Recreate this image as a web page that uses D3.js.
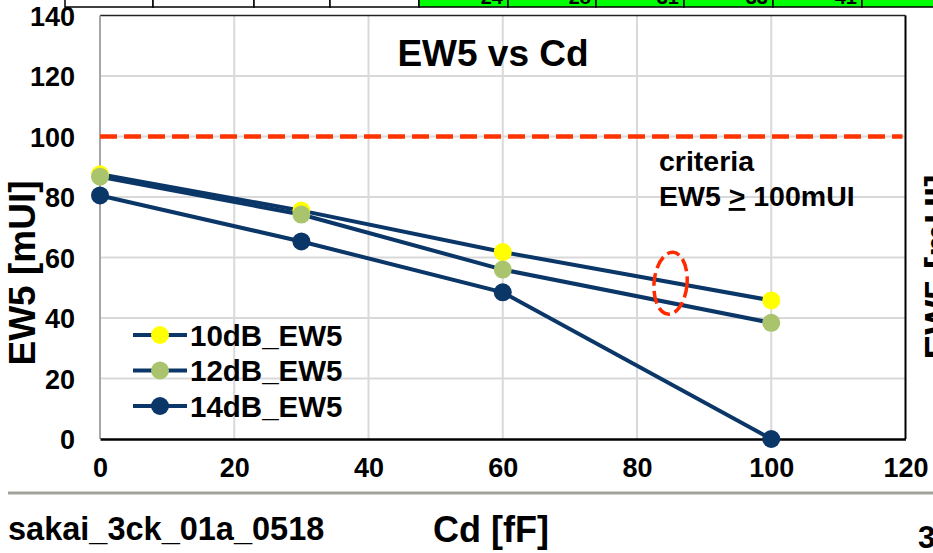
<!DOCTYPE html>
<html><head><meta charset="utf-8">
<script src="https://cdn.jsdelivr.net/npm/d3@7"></script>
<style>
html,body{margin:0;padding:0;background:#fff;}
svg{display:block;font-family:"Liberation Sans",Arial,sans-serif;font-weight:bold;}
</style></head>
<body><svg id="c" width="933" height="553"></svg>
<script>
// ---- data ----
const cdValues = [0, 30, 60, 100];
const seriesNames = ["10dB_EW5", "12dB_EW5", "14dB_EW5"];
const ew5_10dB = [87.5, 75.5, 61.8, 45.8];
const ew5_12dB = [86.7, 74.2, 56.0, 38.4];
const ew5_14dB = [80.5, 65.3, 48.5, 0];
const xTicks = [0, 20, 40, 60, 80, 100, 120];
const yTicks = [0, 20, 40, 60, 80, 100, 120, 140];
const criteriaValue = 100;
const ellipseCenter = [85, 51.5];
const tableCellEdges = [65, 153, 254, 330, 419, 508, 596, 684, 773, 862, 951];
const tableValues = ["", "", "", "", "24", "28", "31", "33", "41", ""];

const markerColors = ["#ffff00", "#a9c46c", "#0b3668"];
const lineColor = "#0b3668";
const allSeries = [ew5_10dB, ew5_12dB, ew5_14dB];

const svg = d3.select("#c");
const x = d3.scaleLinear().domain([0, 120]).range([100, 905.5]);
const y = d3.scaleLinear().domain([0, 140]).range([439, 15.5]);

// top table strip (cropped slide table)
const tbl = svg.append("g");
for (let i = 0; i < tableCellEdges.length - 1; i++) {
  const x0 = tableCellEdges[i], x1 = tableCellEdges[i + 1];
  tbl.append("rect").attr("x", x0).attr("y", -2).attr("width", x1 - x0).attr("height", 9)
    .attr("fill", i >= 4 ? "#00ff00" : "#fff").attr("stroke", "#000").attr("stroke-width", 1.5);
  if (tableValues[i]) tbl.append("text").attr("x", x1 - 5).attr("y", 3.5).attr("text-anchor", "end")
    .attr("font-size", 20).text(tableValues[i]);
}

// gridlines
const grid = svg.append("g").attr("stroke", "#d9d9d9").attr("stroke-width", 2);
grid.selectAll(".gx").data(xTicks.filter(d => d > 0 && d < 120)).join("line")
  .attr("x1", d => x(d)).attr("x2", d => x(d)).attr("y1", y(140)).attr("y2", y(0));
grid.selectAll(".gy").data(yTicks.filter(d => d > 0 && d < 140)).join("line")
  .attr("x1", x(0)).attr("x2", x(120)).attr("y1", d => y(d)).attr("y2", d => y(d));

// frame
svg.append("line").attr("x1", x(0)).attr("x2", x(120)).attr("y1", y(140)).attr("y2", y(140)).attr("stroke", "#222").attr("stroke-width", 1.5);
svg.append("line").attr("x1", x(120)).attr("x2", x(120)).attr("y1", y(140)).attr("y2", y(0)).attr("stroke", "#000").attr("stroke-width", 2);
svg.append("line").attr("x1", x(0)).attr("x2", x(0)).attr("y1", y(140)).attr("y2", y(0)).attr("stroke", "#a6a6a6").attr("stroke-width", 2);

// axes (labels only)
const xAxis = svg.append("g").attr("transform", `translate(0,${y(0)})`)
  .call(d3.axisBottom(x).tickValues(xTicks).tickSize(0).tickPadding(38));
xAxis.select(".domain").attr("stroke", "#000").attr("stroke-width", 2.5);
xAxis.selectAll("text").attr("font-size", 27).attr("font-family", null).attr("fill", "#000").attr("dy", null);
const yAxis = svg.append("g").attr("transform", `translate(${x(0)},0)`)
  .call(d3.axisLeft(y).tickValues(yTicks).tickSize(0).tickPadding(25));
yAxis.select(".domain").remove();
yAxis.selectAll("text").attr("font-size", 27).attr("font-family", null).attr("fill", "#000").attr("dy", "0.36em");

// criteria line
svg.append("line").attr("x1", x(0)).attr("x2", x(120) - 3).attr("y1", y(criteriaValue)).attr("y2", y(criteriaValue))
  .attr("stroke", "#ff3300").attr("stroke-width", 4.5).attr("stroke-dasharray", "17,7");

// series
const line = d3.line().x((d, i) => x(cdValues[i])).y(d => y(d));
allSeries.forEach((vals, k) => {
  svg.append("path").datum(vals).attr("d", line).attr("fill", "none")
    .attr("stroke", lineColor).attr("stroke-width", 4);
});
allSeries.forEach((vals, k) => {
  svg.append("g").selectAll("circle").data(vals).join("circle")
    .attr("cx", (d, i) => x(cdValues[i])).attr("cy", d => y(d)).attr("r", 9)
    .attr("fill", markerColors[k]);
});

// ellipse annotation
const [ecx, ecy] = [x(ellipseCenter[0]), y(ellipseCenter[1])];
svg.append("ellipse").attr("cx", 0).attr("cy", 0).attr("rx", 16.5).attr("ry", 31)
  .attr("transform", `translate(${ecx},${ecy}) rotate(5)`)
  .attr("fill", "none").attr("stroke", "#ff2a00").attr("stroke-width", 3.5).attr("stroke-dasharray", "13,5");

// criteria text
const ct = svg.append("text").attr("font-size", 28.5).attr("fill", "#000");
ct.append("tspan").attr("x", 659).attr("y", 171).text("criteria");
const t2 = ct.append("tspan").attr("x", 659).attr("y", 206);
t2.append("tspan").text("EW5 ");
t2.append("tspan").attr("text-decoration", "underline").text(">");
t2.append("tspan").text(" 100mUI");

// legend
const lg = svg.append("g");
seriesNames.forEach((name, k) => {
  const ly = 335 + k * 35.5;
  lg.append("line").attr("x1", 133).attr("x2", 187).attr("y1", ly).attr("y2", ly)
    .attr("stroke", lineColor).attr("stroke-width", 4);
  lg.append("circle").attr("cx", 160).attr("cy", ly).attr("r", 9).attr("fill", markerColors[k]);
  lg.append("text").attr("x", 190).attr("y", ly).attr("dy", "0.36em").attr("font-size", 29.5).text(name);
});

// title
svg.append("text").attr("x", 493).attr("y", 66).attr("text-anchor", "middle").attr("font-size", 37).text("EW5 vs Cd");

// axis titles
svg.append("text").attr("transform", "translate(34.5,273) rotate(-90)").attr("text-anchor", "middle")
  .attr("font-size", 37).text("EW5 [mUI]");
svg.append("text").attr("x", 491).attr("y", 542).attr("text-anchor", "middle").attr("font-size", 36).text("Cd [fF]");

// neighbouring slide content (cropped)
svg.append("text").attr("transform", "translate(951,267) rotate(-90)").attr("text-anchor", "middle")
  .attr("font-size", 37).text("EW5 [mUI]");
svg.append("line").attr("x1", 8).attr("x2", 933).attr("y1", 493).attr("y2", 493).attr("stroke", "#a3a39b").attr("stroke-width", 3);
svg.append("text").attr("x", 8).attr("y", 540).attr("font-size", 32.5).text("sakai_3ck_01a_0518");
svg.append("text").attr("x", 918).attr("y", 548).attr("font-size", 31).text("3");
</script></body></html>
